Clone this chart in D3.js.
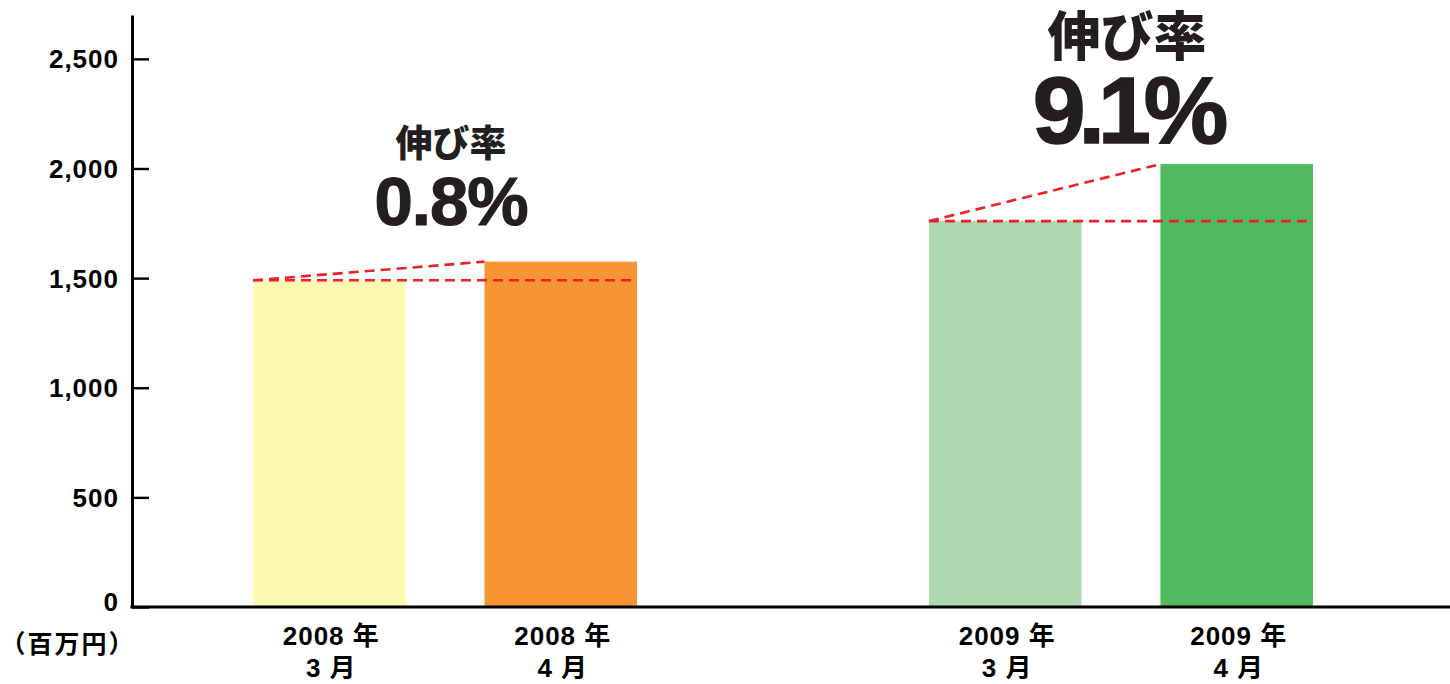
<!DOCTYPE html>
<html lang="ja">
<head>
<meta charset="utf-8">
<script src="https://cdn.jsdelivr.net/npm/d3@7"></script>
<style>
  html, body { margin: 0; padding: 0; background: #fff; }
  svg { display: block; }
  .num { font-family: "Liberation Sans", "Noto Sans CJK JP", sans-serif; font-weight: bold; fill: #000; }
  .cjk { font-family: "Noto Sans CJK JP", sans-serif; font-weight: 900; fill: #231f20; }
  .big { font-family: "Liberation Sans", sans-serif; font-weight: bold; fill: #231f20; stroke: #231f20; }
</style>
</head>
<body>
<svg id="chart" width="1450" height="684"></svg>
<script>
// Sales (million yen), March vs April, 2008 and 2009
const years = ["2008", "2009"];
const months = ["3", "4"];
const sales2008 = [1490, 1575];
const sales2009 = [1760, 2020];
const growthLabels = ["0.8%", "9.1%"];
const barColors2008 = ["#fef9b1", "#f79433"];
const barColors2009 = ["#aed9b0", "#51ba5e"];
const yTicks = [0, 500, 1000, 1500, 2000, 2500];
const unitLabel = "（百万円）";
const growthTitle = "伸び率";

const W = 1450, H = 684;
const axisX = 132, baseY = 607;

const svg = d3.select("#chart");

const y = d3.scaleLinear().domain([0, 2700]).range([baseY, 15]);

const xGroup = d3.scaleBand().domain(years).range([253, 1313]).paddingInner(0.4318).paddingOuter(0);
const xMonth = d3.scaleBand().domain(months).range([0, xGroup.bandwidth()]).paddingInner(0.341).paddingOuter(0);

const groups = [
  { year: years[0], values: sales2008, colors: barColors2008, growth: growthLabels[0] },
  { year: years[1], values: sales2009, colors: barColors2009, growth: growthLabels[1] }
];

// bars
groups.forEach(g => {
  const gx = xGroup(g.year);
  svg.append("g").selectAll("rect")
    .data(months.map((m, i) => ({ m, v: g.values[i], c: g.colors[i] })))
    .join("rect")
    .attr("x", d => gx + xMonth(d.m))
    .attr("y", d => y(d.v))
    .attr("width", xMonth.bandwidth())
    .attr("height", d => y(0) - y(d.v))
    .attr("fill", d => d.c);
});

// dashed growth guides: level of March and slope to April
groups.forEach(g => {
  const gx = xGroup(g.year);
  const x0 = gx + xMonth(months[0]);
  const x1 = gx + xMonth(months[1]);
  const x1r = x1 + xMonth.bandwidth();
  const guide = svg.append("g")
    .attr("stroke", "#ed2127")
    .attr("stroke-width", 2.6)
    .attr("stroke-dasharray", "10,6")
    .attr("fill", "none");
  guide.append("line")
    .attr("x1", x0).attr("y1", y(g.values[0]))
    .attr("x2", x1r).attr("y2", y(g.values[0]));
  guide.append("line")
    .attr("x1", x0).attr("y1", y(g.values[0]))
    .attr("x2", x1).attr("y2", y(g.values[1]));
});

// y axis
const yAxis = d3.axisLeft(y)
  .tickValues(yTicks)
  .tickFormat(d3.format(","))
  .tickSizeInner(-17)
  .tickSizeOuter(0)
  .tickPadding(13);

const ya = svg.append("g")
  .attr("transform", `translate(${axisX},0)`)
  .call(yAxis);
ya.select(".domain").attr("stroke", "#000").attr("stroke-width", 3);
ya.selectAll(".tick line").attr("stroke", "#000").attr("stroke-width", 2.4);
ya.selectAll(".tick text")
  .attr("class", "num")
  .attr("font-size", null)
  .attr("font-family", null)
  .style("font-size", "26px")
  .style("letter-spacing", "1px")
  .attr("dy", d => d === 0 ? "0.14em" : "0.35em");

// baseline
svg.append("line")
  .attr("x1", axisX - 1.5).attr("x2", W)
  .attr("y1", y(0)).attr("y2", y(0))
  .attr("stroke", "#000").attr("stroke-width", 3);

// unit label
svg.append("text")
  .attr("class", "num")
  .attr("x", 68).attr("y", 653)
  .attr("text-anchor", "middle")
  .style("font-size", "25px")
  .style("letter-spacing", "2px")
  .text(unitLabel);

// category labels under each bar
groups.forEach(g => {
  const gx = xGroup(g.year);
  months.forEach(m => {
    const cx = gx + xMonth(m) + xMonth.bandwidth() / 2 + 2;
    const t = svg.append("text")
      .attr("class", "num")
      .attr("text-anchor", "middle")
      .style("font-size", "26px")
      .style("letter-spacing", "1px");
    t.append("tspan").attr("x", cx).attr("y", 645).text(`${g.year} 年`);
    t.append("tspan").attr("x", cx).attr("y", 677).text(`${m} 月`);
  });
});

// growth annotations
const annLayout = [
  { titleSize: 37, titleY: 157, numSize: 69, numY: 225, spacing: -1, stroke: 1.2 },
  { titleSize: 53, titleY: 56, numSize: 95, numY: 143, spacing: -7, stroke: 1.6 }
];
groups.forEach((g, i) => {
  const L = annLayout[i];
  const cx = xGroup(g.year) + xGroup.bandwidth() / 2 + 6;
  svg.append("text")
    .attr("class", "cjk")
    .attr("x", cx).attr("y", L.titleY)
    .attr("text-anchor", "middle")
    .style("font-size", L.titleSize + "px")
    .text(growthTitle);
  svg.append("text")
    .attr("class", "big")
    .attr("x", cx).attr("y", L.numY)
    .attr("text-anchor", "middle")
    .attr("stroke-width", L.stroke)
    .style("font-size", L.numSize + "px")
    .style("letter-spacing", L.spacing + "px")
    .text(g.growth);
});
</script>
</body>
</html>
